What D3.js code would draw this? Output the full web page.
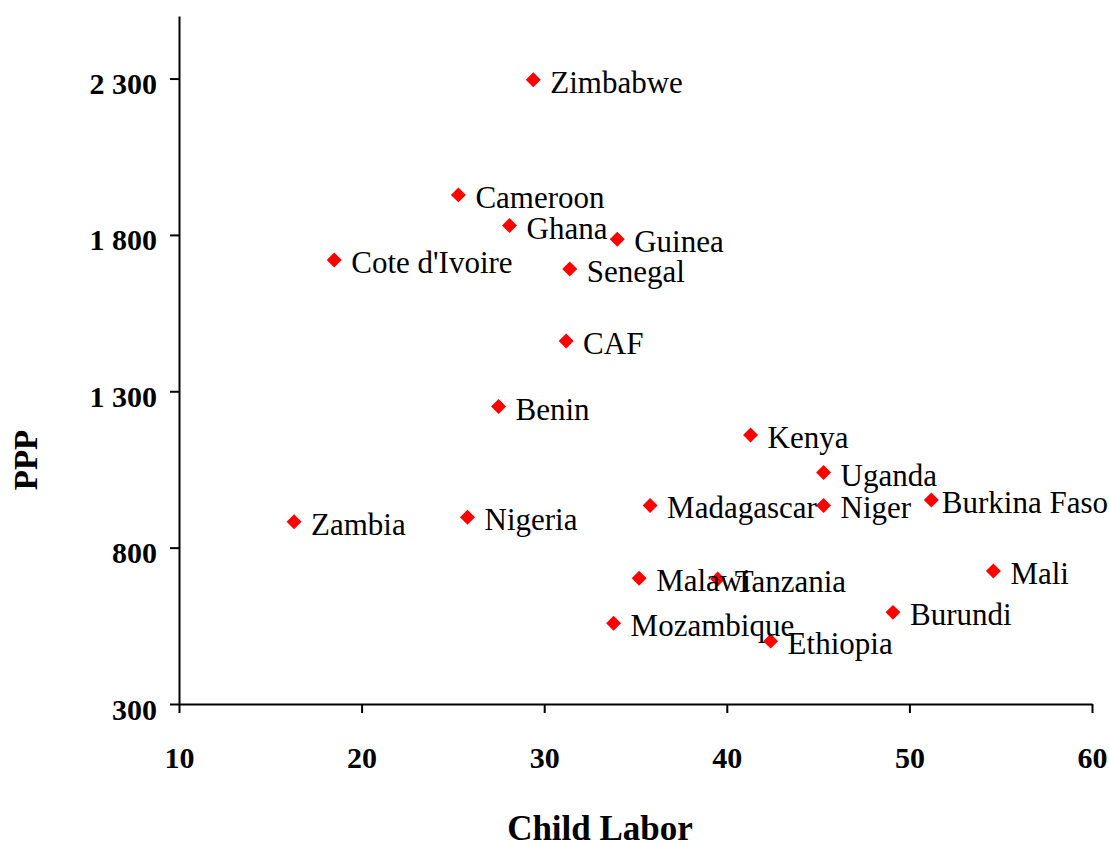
<!DOCTYPE html>
<html>
<head>
<meta charset="utf-8">
<script src="https://cdn.jsdelivr.net/npm/d3@7"></script>
<style>
  body { margin: 0; background: #fff; }
  svg { display: block; }
  text { font-family: "Liberation Serif", "Times New Roman", serif; }
</style>
</head>
<body>
<svg id="chart" width="1109" height="843"></svg>
<script>
const countries = ["Zimbabwe","Cameroon","Ghana","Guinea","Cote d'Ivoire","Senegal","CAF","Benin","Kenya","Uganda","Burkina Faso","Madagascar","Niger","Zambia","Nigeria","Mali","Malawi","Tanzania","Burundi","Mozambique","Ethiopia"];
const childLabor = [29.4, 25.3, 28.1, 34.0, 18.5, 31.4, 31.2, 27.5, 41.3, 45.3, 51.2, 35.8, 45.3, 16.3, 25.8, 54.6, 35.2, 39.5, 49.1, 33.8, 42.4];
const ppp = [2296, 1928, 1830, 1786, 1720, 1691, 1461, 1251, 1160, 1040, 952, 935, 935, 883, 897, 725, 702, 700, 593, 558, 501];
const xTicks = [10, 20, 30, 40, 50, 60];
const yTicks = [300, 800, 1300, 1800, 2300];
const xTitle = "Child Labor";
const yTitle = "PPP";

const data = countries.map((c, i) => ({ name: c, x: childLabor[i], y: ppp[i] }));

const W = 1109;
const svg = d3.select("#chart");
const x = d3.scaleLinear().domain([10, 60]).range([179, 1092]);
const y = d3.scaleLinear().domain([300, 2500]).range([704, 16]);

const loc = d3.formatLocale({ decimal: ".", thousands: " ", grouping: [3], currency: ["", ""] });
const yFmt = loc.format(",d");

// X axis
const gx = svg.append("g").attr("transform", "translate(0,704)")
  .call(d3.axisBottom(x).tickValues(xTicks).tickSize(9).tickSizeOuter(0).tickPadding(34).tickFormat(d3.format("d")));
gx.select(".domain").attr("stroke", "#000").attr("stroke-width", 2);
gx.selectAll(".tick line").attr("stroke", "#000").attr("stroke-width", 2);
gx.selectAll(".tick text").attr("font-family", "Liberation Serif, serif").attr("font-size", 30).attr("font-weight", "bold").attr("fill", "#000");

// Y axis
const gy = svg.append("g").attr("transform", "translate(179,0)")
  .call(d3.axisLeft(y).tickValues(yTicks).tickSize(9).tickSizeOuter(0).tickPadding(13).tickFormat(yFmt));
gy.select(".domain").attr("stroke", "#000").attr("stroke-width", 2);
gy.selectAll(".tick line").attr("stroke", "#000").attr("stroke-width", 2);
gy.selectAll(".tick text").attr("font-family", "Liberation Serif, serif").attr("font-size", 30).attr("font-weight", "bold").attr("fill", "#000").attr("dy", "0.5em");

// Titles
svg.append("text").attr("x", 600).attr("y", 840).attr("text-anchor", "middle")
  .attr("font-size", 35).attr("font-weight", "bold").attr("fill", "#000").text(xTitle);
svg.append("text").attr("transform", "translate(37,460) rotate(-90)").attr("text-anchor", "middle")
  .attr("font-size", 33).attr("font-weight", "bold").attr("fill", "#000").text(yTitle);

// Points
const sym = d3.symbol().type(d3.symbolSquare).size(112);
svg.append("g").selectAll("path").data(data).join("path")
  .attr("d", sym)
  .attr("transform", d => `translate(${x(d.x)},${y(d.y)}) rotate(45)`)
  .attr("fill", "#ff0000");

// Labels (kept inside the picture's right edge)
svg.append("g").selectAll("text").data(data).join("text")
  .attr("y", d => y(d.y) + 13)
  .attr("font-size", 31)
  .attr("fill", "#000")
  .text(d => d.name)
  .attr("x", function (d) {
    const w = this.getComputedTextLength();
    return Math.min(x(d.x) + 17, W - 1 - w);
  });
</script>
</body>
</html>
